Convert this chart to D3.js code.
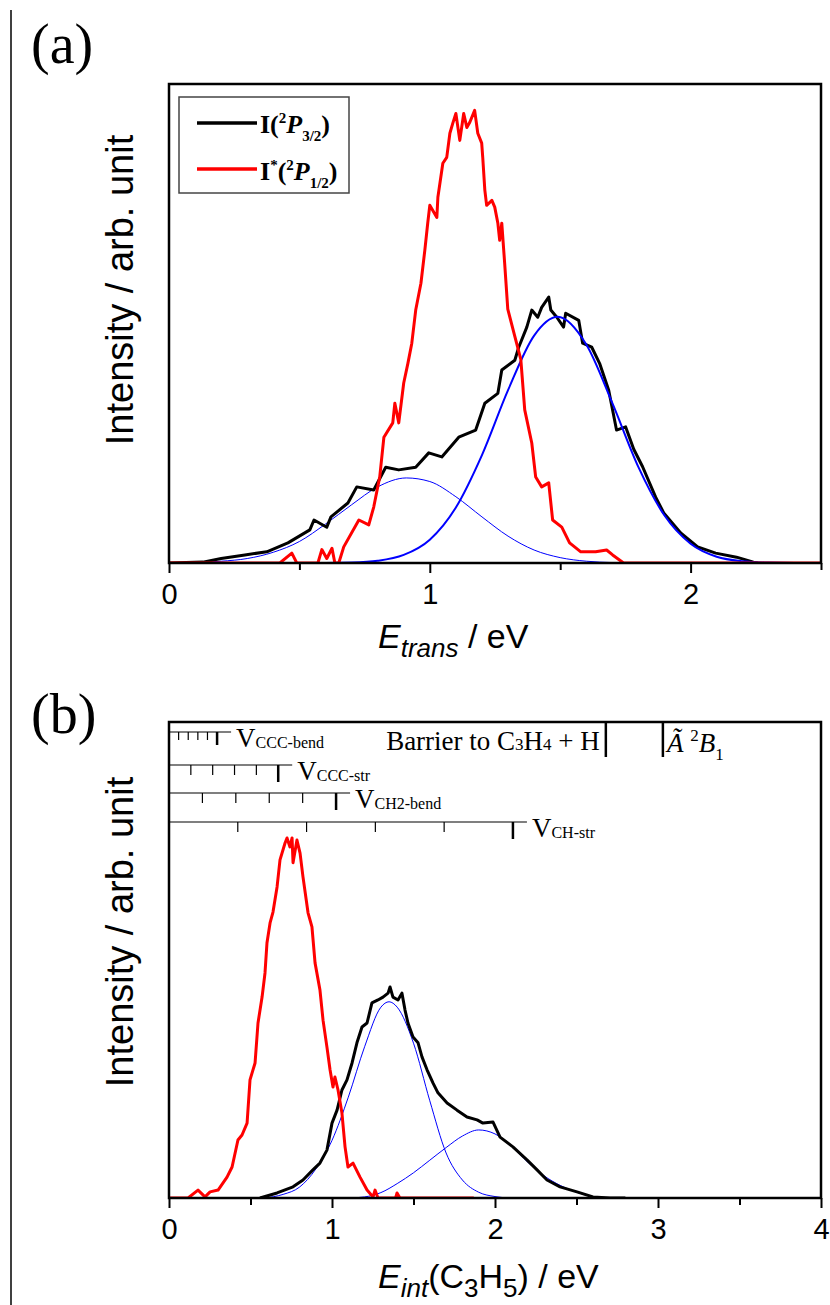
<!DOCTYPE html>
<html>
<head>
<meta charset="utf-8">
<script src="https://cdn.jsdelivr.net/npm/d3@7"></script>
<style>
  body { margin: 0; background: #fff; }
  svg { display: block; }
</style>
</head>
<body>
<svg id="fig" width="830" height="1305"></svg>
<script>
// ---- panel (a): translational energy distributions, [E_trans (eV), intensity]
var transRed = [[0,0],[0.425,0],[0.471,0.022],[0.49,0],[0.571,0],[0.586,0.03],[0.605,0.01],[0.625,0.033],[0.636,0],[0.651,0],
  [0.67,0.036],[0.728,0.096],[0.766,0.085],[0.785,0.125],[0.808,0.192],[0.824,0.281],[0.858,0.313],[0.866,0.357],[0.881,0.313],
  [0.9,0.402],[0.916,0.446],[0.931,0.491],[0.946,0.565],[0.966,0.625],[0.981,0.699],[0.992,0.759],[1.0,0.799],[1.027,0.772],
  [1.031,0.817],[1.05,0.893],[1.065,0.906],[1.077,0.96],[1.088,0.982],[1.1,1.004],[1.115,0.944],[1.13,1.004],[1.142,0.973],
  [1.153,0.984],[1.172,1.011],[1.184,0.96],[1.199,0.938],[1.203,0.906],[1.211,0.833],[1.218,0.799],[1.238,0.81],[1.249,0.795],
  [1.261,0.759],[1.268,0.721],[1.276,0.759],[1.287,0.67],[1.299,0.567],[1.326,0.506],[1.349,0.455],[1.364,0.342],[1.391,0.268],
  [1.406,0.192],[1.429,0.17],[1.456,0.179],[1.471,0.096],[1.506,0.08],[1.536,0.045],[1.579,0.025],[1.636,0.025],[1.678,0.029],
  [1.701,0.018],[1.743,0],[2.5,0]]

var transBlack = [[0,0],[0.13,0.002],[0.2,0.01],[0.291,0.018],[0.375,0.025],[0.456,0.045],[0.54,0.074],[0.556,0.096],[0.605,0.08],
  [0.621,0.103],[0.686,0.134],[0.72,0.17],[0.785,0.163],[0.831,0.214],[0.881,0.208],[0.946,0.214],[0.996,0.246],[1.046,0.237],
  [1.111,0.281],[1.176,0.297],[1.211,0.357],[1.261,0.379],[1.276,0.431],[1.326,0.453],[1.341,0.482],[1.372,0.527],[1.391,0.565],
  [1.414,0.549],[1.429,0.571],[1.456,0.594],[1.464,0.565],[1.487,0.549],[1.513,0.527],[1.521,0.558],[1.571,0.542],[1.586,0.491],
  [1.621,0.482],[1.651,0.446],[1.686,0.386],[1.716,0.297],[1.751,0.304],[1.782,0.254],[1.816,0.215],[1.866,0.147],[1.897,0.112],
  [1.962,0.067],[2.027,0.036],[2.096,0.022],[2.176,0.013],[2.241,0.002],[2.257,0]]

// fitted components
var transFitLow = [[0,0],[0.2,0.004],[0.3,0.01],[0.4,0.024],[0.5,0.048],[0.6,0.087],[0.7,0.13],[0.8,0.17],[0.91,0.19],
  [1.0,0.182],[1.1,0.148],[1.2,0.103],[1.3,0.06],[1.4,0.029],[1.5,0.012],[1.6,0.004],[1.7,0.001],[1.8,0],[2.5,0]]
var transFitHigh = [[0,0],[0.6,0],[0.7,0.001],[0.8,0.005],[0.9,0.018],[1.0,0.052],[1.1,0.124],[1.2,0.241],[1.3,0.386],
  [1.4,0.508],[1.49,0.55],[1.6,0.488],[1.7,0.357],[1.8,0.214],[1.9,0.106],[2.0,0.043],[2.1,0.014],[2.2,0.004],[2.3,0.001],[2.4,0],[2.5,0]]

// ---- panel (b): internal energy of C3H5, [E_int (eV), intensity]
var intRed = [[0,0],[0.117,0],[0.178,0.022],[0.221,0.003],[0.252,0.017],[0.301,0.022],[0.356,0.058],[0.387,0.086],[0.423,0.161],
  [0.448,0.175],[0.479,0.208],[0.497,0.328],[0.528,0.375],[0.546,0.486],[0.571,0.558],[0.589,0.625],[0.601,0.708],[0.62,0.764],
  [0.638,0.794],[0.663,0.864],[0.681,0.939],[0.712,0.986],[0.724,1.0],[0.742,0.975],[0.755,1.0],[0.761,0.931],[0.785,0.994],
  [0.804,0.958],[0.822,0.892],[0.853,0.792],[0.877,0.753],[0.896,0.653],[0.926,0.578],[0.945,0.494],[0.969,0.419],[0.988,0.356],
  [1.006,0.308],[1.018,0.336],[1.037,0.3],[1.061,0.236],[1.08,0.142],[1.098,0.086],[1.129,0.097],[1.172,0.058],[1.215,0.022],
  [1.252,0.003],[1.264,0.022],[1.282,0],[1.39,0],[1.399,0.014],[1.417,0],[1.87,0]]

var intBlack = [[0.558,0],[0.663,0.014],[0.761,0.031],[0.822,0.05],[0.883,0.078],[0.926,0.097],[0.969,0.133],[1.0,0.208],
  [1.031,0.244],[1.061,0.3],[1.092,0.328],[1.123,0.375],[1.153,0.431],[1.184,0.475],[1.215,0.486],[1.245,0.542],[1.282,0.55],
  [1.313,0.558],[1.344,0.569],[1.356,0.586],[1.374,0.558],[1.405,0.55],[1.429,0.569],[1.448,0.522],[1.466,0.486],[1.497,0.447],
  [1.528,0.431],[1.552,0.392],[1.583,0.356],[1.62,0.319],[1.65,0.292],[1.706,0.264],[1.767,0.244],[1.828,0.225],[1.89,0.217],
  [1.926,0.208],[1.988,0.211],[2.031,0.169],[2.11,0.142],[2.196,0.106],[2.258,0.078],[2.319,0.05],[2.399,0.031],[2.503,0.017],
  [2.601,0.003],[2.706,0],[2.8,0]]

var intFitLow = [[0.58,0],[0.7,0.01],[0.8,0.03],[0.9,0.08],[1.0,0.16],[1.1,0.28],[1.2,0.42],[1.3,0.53],[1.35,0.545],[1.4,0.53],
  [1.5,0.43],[1.6,0.27],[1.7,0.125],[1.8,0.05],[1.9,0.016],[2.0,0.004],[2.1,0],[2.64,0]]
var intFitHigh = [[0.58,0],[1.1,0],[1.2,0.003],[1.3,0.015],[1.4,0.04],[1.5,0.07],[1.6,0.105],[1.7,0.14],[1.8,0.172],[1.9,0.189],
  [2.0,0.178],[2.1,0.145],[2.2,0.1],[2.3,0.062],[2.4,0.035],[2.5,0.016],[2.6,0.004],[2.64,0]]

// vibrational ladders (eV); the last level of each is drawn heavier
var ladderCCCbend = [0.059, 0.118, 0.177, 0.236, 0.295]
var ladderCCCstr  = [0.134, 0.268, 0.402, 0.536, 0.670]
var ladderCH2bend = [0.205, 0.410, 0.615, 0.820, 1.025]
var ladderCHstr   = [0.422, 0.844, 1.266, 1.688, 2.110]
var barrierE = 2.68
var stateAE = 3.03

var transTicks = [0, 1, 2], transMinor = [0.5, 1.5, 2.5]
var intTicks = [0, 1, 2, 3, 4], intMinor = [0.5, 1.5, 2.5, 3.5]

var SANS = "Liberation Sans, Arial, sans-serif"
var SERIF = "Liberation Serif, Times New Roman, serif"

var svg = d3.select("#fig")

// text made of pieces, each piece may be shifted up/down, resized or italic
function rich(sel, x, y, parts, o) {
    var t = sel.append("text")
        .attr("x", x).attr("y", y)
        .attr("font-family", o.family)
        .attr("font-size", o.size)
        .attr("font-weight", o.weight || "normal")
        .attr("fill", "#000")
    if (o.anchor) t.attr("text-anchor", o.anchor)
    if (o.transform) t.attr("transform", o.transform)
    var shift = 0
    parts.forEach(function(p) {
        var s = t.append("tspan").text(p.t)
        var dy = (p.dy || 0) - shift
        if (dy) s.attr("dy", dy)
        shift = p.dy || 0
        if (p.size) s.attr("font-size", p.size)
        if (p.it) s.attr("font-style", "italic")
    })
    return t
}

// page border on the left
svg.append("line")
    .attr("x1", 11).attr("x2", 11).attr("y1", 10).attr("y2", 1305)
    .attr("stroke", "#000").attr("stroke-width", 1.5)

function panel(opt) {
    var x = opt.x, y = opt.y
    var g = svg.append("g")
    var line = d3.line().x(function(d) { return x(d[0]) }).y(function(d) { return y(d[1]) })
    var smooth = d3.line().curve(d3.curveMonotoneX).x(function(d) { return x(d[0]) }).y(function(d) { return y(d[1]) })

    var clip = "clip" + opt.id
    g.append("clipPath").attr("id", clip).append("rect")
        .attr("x", x.range()[0]).attr("y", y.range()[1])
        .attr("width", x.range()[1] - x.range()[0])
        .attr("height", y.range()[0] - y.range()[1])
    var plot = g.append("g").attr("clip-path", "url(#" + clip + ")")

    opt.series.forEach(function(s) {
        plot.append("path")
            .datum(s.data)
            .attr("d", s.smooth ? smooth : line)
            .attr("fill", "none")
            .attr("stroke", s.color)
            .attr("stroke-width", s.width)
            .attr("stroke-linejoin", "round")
    })

    // frame
    g.append("rect")
        .attr("x", x.range()[0]).attr("y", y.range()[1])
        .attr("width", x.range()[1] - x.range()[0])
        .attr("height", y.range()[0] - y.range()[1])
        .attr("fill", "none").attr("stroke", "#000").attr("stroke-width", 2.5)

    var axis = g.append("g")
        .attr("transform", "translate(0," + y.range()[0] + ")")
        .call(d3.axisBottom(x).tickValues(opt.ticks).tickSize(10).tickPadding(10).tickFormat(d3.format("d")))
    axis.select(".domain").remove()
    axis.selectAll(".tick line").attr("stroke-width", 2)
    axis.selectAll("text").attr("font-family", SANS).attr("font-size", 29).attr("fill", "#000")

    var minor = g.append("g")
        .attr("transform", "translate(0," + y.range()[0] + ")")
        .call(d3.axisBottom(x).tickValues(opt.minor).tickSize(7).tickFormat(""))
    minor.select(".domain").remove()
    minor.selectAll(".tick line").attr("stroke-width", 2)

    // y label
    rich(g, 0, 0, [{t: "Intensity / arb. unit"}],
        {family: SANS, size: 38, anchor: "middle", transform: "translate(133," + opt.labelY + ") rotate(-90)"})
    return g
}

// ---------------- (a)
var xa = d3.scaleLinear().domain([0, 2.5]).range([169, 821])
var ya = d3.scaleLinear().domain([0, 1.07]).range([563, 84])

var ga = panel({
    id: "a", x: xa, y: ya, ticks: transTicks, minor: transMinor, labelY: 290,
    series: [
        {data: transFitLow, color: "#0000ff", width: 1, smooth: true},
        {data: transBlack, color: "#000", width: 3},
        {data: transFitHigh, color: "#0000ff", width: 2, smooth: true},
        {data: transRed, color: "#ff0000", width: 3}
    ]
})

rich(ga, 378, 648, [{t: "E", it: true}, {t: "trans", it: true, size: 26, dy: 9}, {t: " / eV"}], {family: SANS, size: 34})
rich(svg, 31, 63, [{t: "(a)"}], {family: SERIF, size: 56})

// legend
var lg = ga.append("g")
lg.append("rect").attr("x", 179).attr("y", 97).attr("width", 170).attr("height", 96)
    .attr("fill", "#fff").attr("stroke", "#444").attr("stroke-width", 1.5)
lg.append("line").attr("x1", 197).attr("x2", 257).attr("y1", 123).attr("y2", 123)
    .attr("stroke", "#000").attr("stroke-width", 3.5)
lg.append("line").attr("x1", 197).attr("x2", 257).attr("y1", 169).attr("y2", 169)
    .attr("stroke", "#ff0000").attr("stroke-width", 3.5)
rich(lg, 260, 133, [{t: "I("}, {t: "2", size: 15, dy: -10}, {t: "P", it: true}, {t: "3/2", size: 15, dy: 8}, {t: ")"}],
    {family: SERIF, size: 26, weight: "bold"})
rich(lg, 260, 180, [{t: "I"}, {t: "*", size: 15, dy: -10}, {t: "("}, {t: "2", size: 15, dy: -10}, {t: "P", it: true},
    {t: "1/2", size: 15, dy: 8}, {t: ")"}], {family: SERIF, size: 26, weight: "bold"})

// ---------------- (b)
var xb = d3.scaleLinear().domain([0, 4]).range([169, 821])
var yb = d3.scaleLinear().domain([0, 1.322]).range([1198, 722])

var gb = panel({
    id: "b", x: xb, y: yb, ticks: intTicks, minor: intMinor, labelY: 932,
    series: [
        {data: intFitLow, color: "#0000ff", width: 1, smooth: true},
        {data: intFitHigh, color: "#0000ff", width: 1, smooth: true},
        {data: intBlack, color: "#000", width: 3},
        {data: intRed, color: "#ff0000", width: 3}
    ]
})

rich(gb, 378, 1288, [{t: "E", it: true}, {t: "int", it: true, size: 26, dy: 9}, {t: "(C"}, {t: "3", size: 26, dy: 9},
    {t: "H"}, {t: "5", size: 26, dy: 9}, {t: ") / eV"}], {family: SANS, size: 34})
rich(svg, 31, 733, [{t: "(b)"}], {family: SERIF, size: 56})

// vibrational ladders
var ladders = [
    {levels: ladderCCCbend, y: 732, small: 8, big: 13, sub: "CCC-bend"},
    {levels: ladderCCCstr, y: 765, small: 10, big: 17, sub: "CCC-str"},
    {levels: ladderCH2bend, y: 793, small: 10, big: 17, sub: "CH2-bend"},
    {levels: ladderCHstr, y: 822, small: 10, big: 17, sub: "CH-str"}
]
var lad = gb.append("g")
ladders.forEach(function(r) {
    var last = xb(r.levels[r.levels.length - 1])
    lad.append("line").attr("x1", xb(0)).attr("x2", last + 14).attr("y1", r.y).attr("y2", r.y)
        .attr("stroke", "#000").attr("stroke-width", 1.2)
    lad.selectAll(null).data(r.levels).enter().append("line")
        .attr("x1", function(d) { return xb(d) }).attr("x2", function(d) { return xb(d) })
        .attr("y1", r.y)
        .attr("y2", function(d, i) { return r.y + (i == r.levels.length - 1 ? r.big : r.small) })
        .attr("stroke", "#000")
        .attr("stroke-width", function(d, i) { return i == r.levels.length - 1 ? 2.5 : 1.2 })
    rich(lad, last + 19, r.y + 15, [{t: "V"}, {t: r.sub, size: 16, dy: 1}], {family: SERIF, size: 27})
})

lad.selectAll(null).data([barrierE, stateAE]).enter().append("line")
    .attr("x1", function(d) { return xb(d) }).attr("x2", function(d) { return xb(d) })
    .attr("y1", 722).attr("y2", 757)
    .attr("stroke", "#000").attr("stroke-width", 2.5)

rich(lad, xb(barrierE) - 6, 750, [{t: "Barrier to C"}, {t: "3", size: 17}, {t: "H"}, {t: "4", size: 17}, {t: " + H"}],
    {family: SERIF, size: 27, anchor: "end"})
rich(lad, xb(stateAE) + 4, 752, [{t: "Ã", it: true}, {t: " "}, {t: "2", size: 17, dy: -11}, {t: "B", it: true},
    {t: "1", size: 17, dy: 8}], {family: SERIF, size: 27})
</script>
</body>
</html>
